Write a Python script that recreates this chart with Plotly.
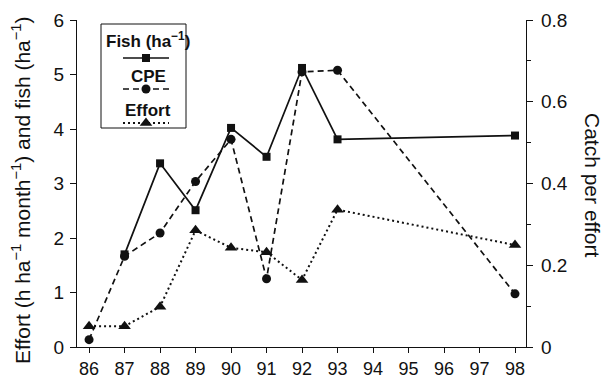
import plotly.graph_objects as go

# Survey years and series values
years = [86, 87, 88, 89, 90, 91, 92, 93, 98]
fish_years = [87, 88, 89, 90, 91, 92, 93, 98]
fish = [1.70, 3.37, 2.51, 4.02, 3.49, 5.12, 3.81, 3.88]          # fish per ha
cpe = [0.018, 0.222, 0.279, 0.405, 0.508, 0.167, 0.673, 0.677, 0.130]  # catch per effort
effort = [0.38, 0.38, 0.74, 2.14, 1.82, 1.74, 1.23, 2.52, 1.87]  # h ha-1 month-1
x_ticks = list(range(86, 99))

W, H = 614, 381
ML, MR, MT, MB = 77, 88, 20, 34
FONT = "Liberation Sans, Arial, Helvetica, sans-serif"
INK = "#111111"

fish_style = dict(line=dict(color=INK, width=1.7),
                  marker=dict(symbol="square", size=8, color=INK))
cpe_style = dict(line=dict(color=INK, width=1.7, dash="6px,4px"),
                 marker=dict(symbol="circle", size=9, color=INK))
effort_style = dict(line=dict(color=INK, width=2, dash="2px,3px"),
                    marker=dict(symbol="triangle-up", size=11, color=INK))

fig = go.Figure()
fig.add_trace(go.Scatter(x=years, y=effort, mode="lines+markers", name="Effort",
                         **effort_style))
fig.add_trace(go.Scatter(x=years, y=cpe, mode="lines+markers", name="CPE",
                         yaxis="y2", **cpe_style))
fig.add_trace(go.Scatter(x=fish_years, y=fish, mode="lines+markers", name="Fish",
                         **fish_style))

# Key box: pixel layout converted to plot-area fractions
pw, ph = W - ML - MR, H - MT - MB
def fx(px):
    return (px - ML) / pw
def fy(py):
    return (H - MB - py) / ph

key_left, key_right, key_top, key_bottom = 101, 186, 24, 128
key_cx = 146
key_half = 23
key_rows = [
    ("Fish (ha<sup>−1</sup>)", 40, 58, fish_style),
    ("CPE", 77, 89, cpe_style),
    ("Effort", 110, 123, effort_style),
]

shapes = [dict(type="rect", xref="paper", yref="paper",
               x0=fx(key_left), x1=fx(key_right), y0=fy(key_bottom), y1=fy(key_top),
               line=dict(color=INK, width=1), fillcolor="white", layer="below")]
annotations = []
for label, ty, sy, style in key_rows:
    annotations.append(dict(text=f"<b>{label}</b>", xref="paper", yref="paper",
                            x=fx(key_cx + 2), y=fy(ty), showarrow=False,
                            xanchor="center", yanchor="middle",
                            font=dict(family=FONT, size=17, color=INK)))
    fig.add_trace(go.Scatter(x=[fx(key_cx - key_half), fx(key_cx), fx(key_cx + key_half)],
                             y=[fy(sy)] * 3, mode="lines", xaxis="x3", yaxis="y3",
                             line=style["line"], showlegend=False, hoverinfo="skip"))
    fig.add_trace(go.Scatter(x=[fx(key_cx)], y=[fy(sy)], mode="markers",
                             xaxis="x3", yaxis="y3", marker=style["marker"],
                             showlegend=False, hoverinfo="skip"))

# Axis titles
annotations.append(dict(
    text="Effort (h ha<sup>−1</sup> month<sup>−1</sup>) and fish (ha<sup>−1</sup>)",
    xref="paper", yref="paper", x=fx(21), y=fy(190), textangle=-90,
    showarrow=False, xanchor="center", yanchor="middle",
    font=dict(family=FONT, size=21, color=INK)))
annotations.append(dict(
    text="Catch per effort", xref="paper", yref="paper", x=fx(593), y=fy(185),
    textangle=90, showarrow=False, xanchor="center", yanchor="middle",
    font=dict(family=FONT, size=21, color=INK)))

axis_common = dict(showgrid=False, zeroline=False, showline=True, linecolor=INK,
                   linewidth=1.2, ticks="outside", tickcolor=INK, ticklen=6,
                   tickwidth=1, automargin=False,
                   tickfont=dict(family=FONT, size=19, color=INK))

fig.update_layout(
    width=W, height=H,
    margin=dict(l=ML, r=MR, t=MT, b=MB),
    paper_bgcolor="white", plot_bgcolor="white",
    showlegend=False,
    xaxis=dict(range=[85.66, 98.31], tickvals=x_ticks,
               **{**axis_common, "ticklen": 5,
                  "tickfont": dict(family=FONT, size=18, color=INK)}),
    yaxis=dict(range=[0, 6], dtick=1, ticklabelstandoff=2, **axis_common),
    yaxis2=dict(range=[0, 0.8], dtick=0.2, overlaying="y", side="right",
                tickformat="~g", ticklabelstandoff=4,
                minor=dict(dtick=0.1, ticks="outside", ticklen=4, tickcolor=INK),
                **axis_common),
    xaxis3=dict(range=[0, 1], domain=[0, 1], visible=False, overlaying="x",
                anchor="y3"),
    yaxis3=dict(range=[0, 1], domain=[0, 1], visible=False, overlaying="y",
                anchor="x3"),
    shapes=shapes,
    annotations=annotations,
)

fig.write_html("out.html")
